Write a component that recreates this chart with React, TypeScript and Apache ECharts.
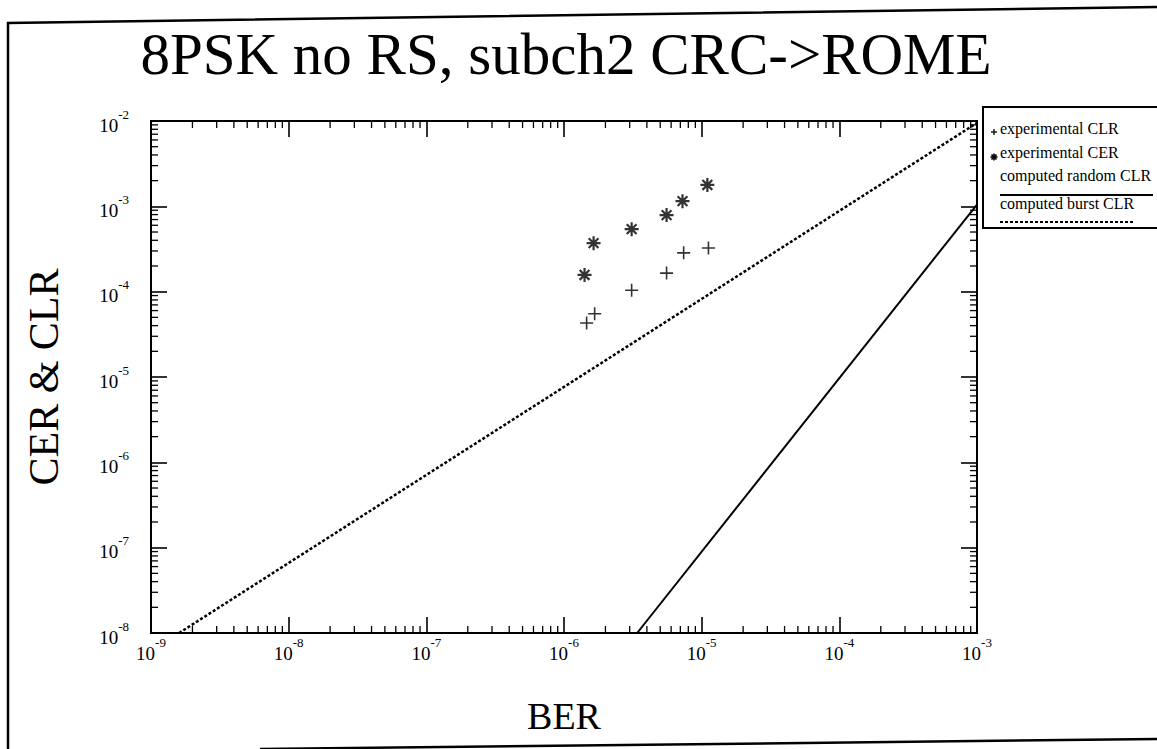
import React, { useEffect, useRef } from "react";
import * as echarts from "echarts";

const TITLE = "8PSK no RS, subch2 CRC->ROME";
const X_NAME = "BER";
const Y_NAME = "CER & CLR";
const X_MIN = 1e-9;
const X_MAX = 1e-3;
const Y_MIN = 1e-8;
const Y_MAX = 1e-2;

// experimental CLR (plus markers)
const clrBer = [1.46e-6, 1.67e-6, 3.1e-6, 5.56e-6, 7.4e-6, 1.12e-5];
const clrVal = [4.3e-5, 5.5e-5, 1.04e-4, 1.65e-4, 2.85e-4, 3.25e-4];
// experimental CER (asterisk markers)
const cerBer = [1.41e-6, 1.64e-6, 3.1e-6, 5.56e-6, 7.26e-6, 1.1e-5];
const cerVal = [1.57e-4, 3.7e-4, 5.4e-4, 7.9e-4, 1.15e-3, 1.78e-3];
// computed random CLR (solid line)
const randomBer = [3.4e-6, 1e-3];
const randomClr = [1e-8, 1.05e-3];
// computed burst CLR (dotted line)
const burstBer = [1.6e-9, 1e-3];
const burstClr = [1e-8, 9.5e-3];

// minor tick positions (2..9 in each decade)
const mantissas = [2, 3, 4, 5, 6, 7, 8, 9];
const xDecades = [-9, -8, -7, -6, -5, -4];
const yDecades = [-8, -7, -6, -5, -4, -3];

const legendNames = [
  "experimental CLR",
  "experimental CER",
  "computed random CLR",
  "computed burst CLR",
];

const SERIF = "'Liberation Serif', 'DejaVu Serif', serif";
const PLUS = "path://M0,6L12,6M6,0L6,12";
const STAR = "path://M6,0L6,12M0,6L12,6M1.8,1.8L10.2,10.2M10.2,1.8L1.8,10.2";

function expLabel(v: number) {
  const e = Math.round(Math.log10(v));
  return `{b|10}{s|${e}}`;
}

const rich = {
  b: { fontFamily: SERIF, fontSize: 19, color: "#000", verticalAlign: "bottom", lineHeight: 27 },
  s: { fontFamily: SERIF, fontSize: 13, color: "#000", verticalAlign: "top", lineHeight: 27 },
};

export default function App() {
  const ref = useRef<HTMLDivElement>(null);
  useEffect(() => {
    if (!ref.current) return;
    const chart = echarts.init(ref.current, null, { renderer: "svg" });

    const xMinor: number[][] = [];
    xDecades.forEach((d) => mantissas.forEach((m) => xMinor.push([m * Math.pow(10, d), 1e-5])));
    const yMinor: number[][] = [];
    yDecades.forEach((d) => mantissas.forEach((m) => yMinor.push([1e-6, m * Math.pow(10, d)])));

    const tickStyle = { stroke: "#000", lineWidth: 1.3 };
    const minorLen = 7;

    const baseAxis = {
      type: "log" as const,
      logBase: 10,
      axisLine: { show: true, onZero: false, lineStyle: { color: "#000", width: 2 } },
      axisTick: { show: true, inside: true, length: 16, lineStyle: { color: "#000", width: 1.6 } },
      splitLine: { show: false },
      minorTick: { show: false },
    };

    const legendRowY = [128, 152, 175, 203];
    const starStyle = { stroke: "#000", lineWidth: 1.6 };
    const legendGraphic: any[] = [
      {
        type: "rect",
        shape: { x: 983, y: 107, width: 190, height: 121 },
        style: { fill: "#fff", stroke: "#000", lineWidth: 2 },
        z: 50,
      },
      // plus icon
      { type: "line", shape: { x1: 991, y1: 132, x2: 997, y2: 132 }, style: tickStyle, z: 51 },
      { type: "line", shape: { x1: 994, y1: 129, x2: 994, y2: 135 }, style: tickStyle, z: 51 },
      // asterisk icon
      { type: "line", shape: { x1: 990.5, y1: 157, x2: 997.5, y2: 157 }, style: starStyle, z: 51 },
      { type: "line", shape: { x1: 994, y1: 153.5, x2: 994, y2: 160.5 }, style: starStyle, z: 51 },
      { type: "line", shape: { x1: 991.5, y1: 154.5, x2: 996.5, y2: 159.5 }, style: starStyle, z: 51 },
      { type: "line", shape: { x1: 996.5, y1: 154.5, x2: 991.5, y2: 159.5 }, style: starStyle, z: 51 },
      // solid line under "computed random CLR"
      { type: "line", shape: { x1: 1000, y1: 195, x2: 1153, y2: 195 }, style: { stroke: "#000", lineWidth: 2 }, z: 51 },
      // dotted line under "computed burst CLR"
      { type: "line", shape: { x1: 1000, y1: 222, x2: 1135, y2: 222 }, style: { stroke: "#000", lineWidth: 2, lineDash: [3, 2] }, z: 51 },
    ];
    legendNames.forEach((n, i) => {
      legendGraphic.push({
        type: "text",
        x: 1000,
        y: legendRowY[i],
        style: { text: n, font: `16px ${SERIF}`, fill: "#000", textVerticalAlign: "middle" },
        z: 52,
      });
    });

    const option: any = {
      animation: false,
      backgroundColor: "#fff",
      title: {
        text: TITLE,
        left: 561,
        top: 19,
        textAlign: "center",
        textStyle: { fontFamily: SERIF, fontSize: 59, fontWeight: "normal", color: "#000" },
      },
      grid: { left: 151, right: 180, top: 121, bottom: 116, containLabel: false },
      xAxis: [
        {
          ...baseAxis,
          position: "bottom",
          min: X_MIN,
          max: X_MAX,
          name: X_NAME,
          nameLocation: "middle",
          nameGap: 64,
          nameTextStyle: { fontFamily: SERIF, fontSize: 38, color: "#000" },
          axisLabel: { show: true, margin: 3, formatter: expLabel, rich },
        },
        {
          ...baseAxis,
          position: "top",
          min: X_MIN,
          max: X_MAX,
          axisLabel: { show: false },
        },
      ],
      yAxis: [
        {
          ...baseAxis,
          position: "left",
          min: Y_MIN,
          max: Y_MAX,
          name: Y_NAME,
          nameLocation: "middle",
          nameGap: 86,
          nameRotate: 90,
          nameTextStyle: { fontFamily: SERIF, fontSize: 42, color: "#000" },
          axisLabel: { show: true, margin: 22, formatter: expLabel, rich },
        },
        {
          ...baseAxis,
          position: "right",
          min: Y_MIN,
          max: Y_MAX,
          axisLabel: { show: false },
        },
      ],
      graphic: [
        {
          type: "polyline",
          shape: { points: [[1157, 7], [8, 23], [8, 749]] },
          style: { stroke: "#000", lineWidth: 2.5, fill: "none" },
          silent: true,
        },
        {
          type: "line",
          shape: { x1: 260, y1: 749, x2: 1157, y2: 739 },
          style: { stroke: "#000", lineWidth: 2.5 },
          silent: true,
        },
        ...legendGraphic,
      ],
      series: [
        {
          name: legendNames[0],
          type: "scatter",
          data: clrBer.map((x, i) => [x, clrVal[i]]),
          symbol: PLUS,
          symbolSize: 13,
          itemStyle: { color: "none", borderColor: "#000", borderWidth: 1.6 },
        },
        {
          name: legendNames[1],
          type: "scatter",
          data: cerBer.map((x, i) => [x, cerVal[i]]),
          symbol: STAR,
          symbolSize: 14,
          itemStyle: { color: "none", borderColor: "#000", borderWidth: 2.2 },
        },
        {
          name: legendNames[2],
          type: "line",
          data: randomBer.map((x, i) => [x, randomClr[i]]),
          showSymbol: false,
          symbol: "none",
          lineStyle: { color: "#000", width: 2 },
        },
        {
          name: legendNames[3],
          type: "line",
          data: burstBer.map((x, i) => [x, burstClr[i]]),
          showSymbol: false,
          symbol: "none",
          lineStyle: { color: "#000", width: 2.5, type: [3, 2] },
        },
        {
          type: "custom",
          silent: true,
          data: xMinor,
          renderItem: (params: any, api: any) => {
            const v = api.value(0);
            const b = api.coord([v, Y_MIN]);
            const t = api.coord([v, Y_MAX]);
            return {
              type: "group",
              children: [
                { type: "line", shape: { x1: b[0], y1: b[1], x2: b[0], y2: b[1] - minorLen }, style: tickStyle },
                { type: "line", shape: { x1: t[0], y1: t[1], x2: t[0], y2: t[1] + minorLen }, style: tickStyle },
              ],
            };
          },
        },
        {
          type: "custom",
          silent: true,
          data: yMinor,
          renderItem: (params: any, api: any) => {
            const v = api.value(1);
            const l = api.coord([X_MIN, v]);
            const r = api.coord([X_MAX, v]);
            return {
              type: "group",
              children: [
                { type: "line", shape: { x1: l[0], y1: l[1], x2: l[0] + minorLen, y2: l[1] }, style: tickStyle },
                { type: "line", shape: { x1: r[0], y1: r[1], x2: r[0] - minorLen, y2: r[1] }, style: tickStyle },
              ],
            };
          },
        },
      ],
    };
    chart.setOption(option);
    return () => chart.dispose();
  }, []);

  return (
    <div
      ref={ref}
      style={{ position: "fixed", left: 0, top: 0, width: 1157, height: 749, background: "#fff" }}
    />
  );
}
